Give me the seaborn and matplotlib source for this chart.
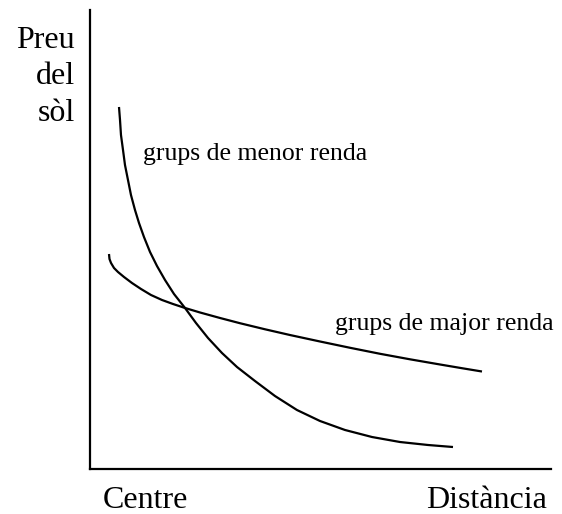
import numpy as np
import pandas as pd
import seaborn as sns
import matplotlib.pyplot as plt

# curve values (distance 0-100, land price 0-100)
menor_dist = [6.29, 6.51, 6.72, 7.16, 7.59, 8.24, 8.89, 9.76, 10.63, 11.71, 13.02, 14.53, 16.27, 18.22,
              20.61, 22.99, 25.60, 28.63, 31.89, 35.79, 40.13, 44.90, 49.89, 55.31, 61.17, 67.25, 73.32, 78.74]
menor_preu = [78.87, 76.03, 72.77, 69.50, 66.23, 62.96, 59.69, 56.43, 53.59, 50.54, 47.28, 44.23, 41.18, 38.13,
              35.08, 31.81, 28.54, 25.27, 22.22, 19.17, 15.90, 12.85, 10.46, 8.50, 6.97, 5.88, 5.23, 4.79]

major_dist = [4.12, 4.23, 4.56, 5.21, 6.07, 7.38, 9.11, 11.06, 13.23, 15.62, 18.00, 20.61,
              23.86, 28.20, 32.54, 37.96, 43.38, 49.89, 56.40, 62.91, 69.41, 75.92, 80.69, 85.03]
major_preu = [46.84, 45.75, 44.88, 43.79, 42.92, 41.83, 40.52, 39.22, 37.91, 36.82, 35.95, 35.08,
              34.10, 32.90, 31.76, 30.44, 29.19, 27.78, 26.41, 25.10, 23.90, 22.77, 21.96, 21.24]

y_label_lines = ["Preu", "del", "sòl"]
x_labels = ["Centre", "Distància"]
curve_labels = ["grups de menor renda", "grups de major renda"]

sns.set_style("white")
plt.rcParams['font.family'] = ['Liberation Serif', 'DejaVu Serif']
plt.rcParams['text.color'] = 'black'

df = pd.concat([
    pd.DataFrame({'dist': menor_dist, 'preu': menor_preu, 'grup': curve_labels[0]}),
    pd.DataFrame({'dist': major_dist, 'preu': major_preu, 'grup': curve_labels[1]}),
])

fig = plt.figure(figsize=(5.62, 5.14), dpi=100)
ax = fig.add_axes([90 / 562, 45 / 514, 461 / 562, 459 / 514])

sns.lineplot(data=df, x='dist', y='preu', units='grup', estimator=None, sort=False,
             color='black', linewidth=1.6, legend=False, ax=ax,
             solid_joinstyle='round', solid_capstyle='butt')

ax.set_xlim(0, 100)
ax.set_ylim(0, 100)
ax.set_xticks([])
ax.set_yticks([])
ax.set_xlabel('')
ax.set_ylabel('')
sns.despine(ax=ax)
for side in ['left', 'bottom']:
    ax.spines[side].set_color('black')
    ax.spines[side].set_linewidth(1.6)

# curve labels
ax.text(11.5, 67.3, curve_labels[0], fontsize=18.5, color='black', ha='left', va='baseline')
ax.text(53.1, 30.3, curve_labels[1], fontsize=18.5, color='black', ha='left', va='baseline')

# axis labels
for txt, yb in zip(y_label_lines, [91.7, 83.9, 75.8]):
    ax.text(-3.3, yb, txt, fontsize=23, color='black', ha='right', va='baseline', clip_on=False)
ax.text(2.8, -8.5, x_labels[0], fontsize=23, color='black', ha='left', va='baseline', clip_on=False)
ax.text(99.1, -8.5, x_labels[1], fontsize=23, color='black', ha='right', va='baseline', clip_on=False)

fig.savefig('out.png', dpi=100)
